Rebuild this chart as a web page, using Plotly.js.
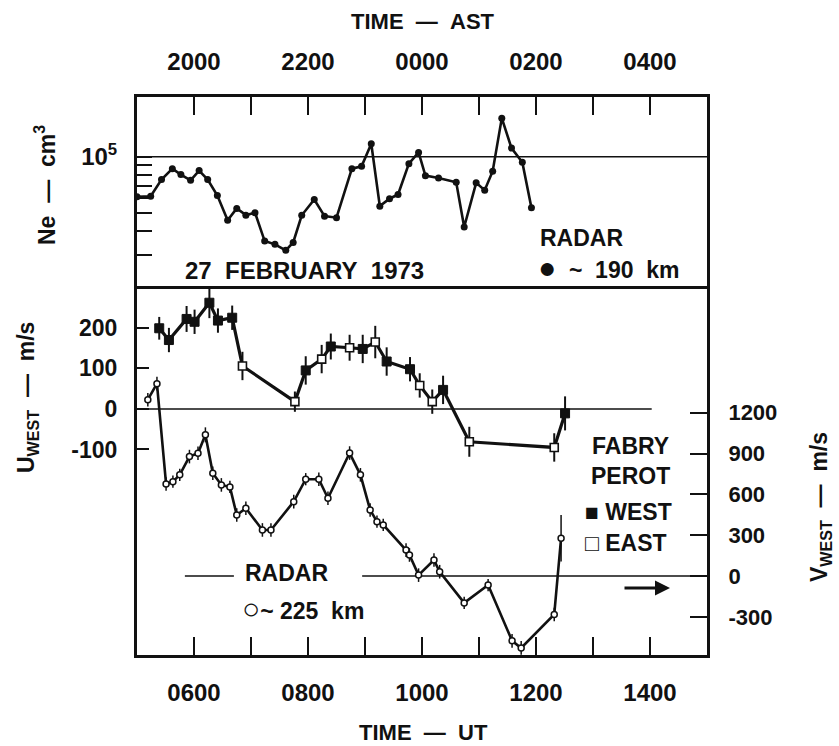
<!DOCTYPE html>
<html><head><meta charset="utf-8">
<script src="https://cdn.plot.ly/plotly-3.0.1.min.js"></script>
<style>html,body{margin:0;padding:0;background:#fff}#chart{width:839px;height:746px}</style>
</head><body><div id="chart"></div>
<script>
// ---- Data ----
// Top panel: radar electron density, ~190 km
const neTime  = [5.0, 5.24, 5.43, 5.62, 5.77, 5.94, 6.09, 6.24, 6.41, 6.59, 6.75, 6.91, 7.07, 7.24, 7.42, 7.61, 7.74, 7.89, 8.11, 8.29, 8.50, 8.77, 8.94, 9.11, 9.26, 9.43, 9.58, 9.77, 9.94, 10.06, 10.29, 10.60, 10.74, 10.95, 11.10, 11.24, 11.40, 11.57, 11.76, 11.92];
const neValue = [61000, 61500, 75500, 86300, 80200, 74800, 84300, 75500, 62000, 45700, 52900, 48700, 50200, 35400, 34000, 31600, 34800, 48600, 59000, 48100, 47200, 86300, 88800, 117300, 54400, 59600, 62800, 91800, 105400, 79200, 77000, 73000, 42100, 72500, 66200, 83600, 160700, 111200, 93300, 53300];

// Bottom panel: Fabry-Perot zonal wind U_WEST (left axis)
const fpTime = [5.39, 5.56, 5.87, 6.01, 6.27, 6.42, 6.67, 6.85, 7.77, 7.96, 8.24, 8.40, 8.73, 8.96, 9.18, 9.38, 9.79, 9.96, 10.18, 10.37, 10.83, 12.32, 12.51];
const fpU    = [199, 170, 222, 215, 262, 218, 225, 106, 18, 95, 123, 154, 151, 148, 165, 117, 98, 58, 18, 47, -81, -95, -11];
const fpErr  = [28, 30, 32, 30, 38, 30, 30, 35, 25, 35, 35, 32, 32, 35, 40, 35, 30, 30, 30, 35, 37, 35, 42];
const fpDir  = ['W','W','W','W','W','W','W','E','E','W','E','W','E','W','E','W','W','E','E','W','E','E','W'];

// Bottom panel: radar V_WEST, ~225 km (right axis)
const radarTime = [5.19, 5.35, 5.51, 5.63, 5.75, 5.92, 6.07, 6.20, 6.33, 6.48, 6.63, 6.75, 6.91, 7.20, 7.35, 7.75, 7.96, 8.19, 8.35, 8.73, 8.92, 9.09, 9.21, 9.32, 9.72, 9.78, 9.94, 10.21, 10.31, 10.74, 11.16, 11.58, 11.74, 12.32, 12.44];
const radarV    = [1296, 1414, 677, 694, 744, 878, 903, 1038, 756, 670, 655, 449, 498, 339, 339, 547, 712, 712, 572, 904, 744, 486, 400, 376, 191, 155, 7, 118, 32, -197, -66, -476, -528, -282, 278];
const radarErr  = [50, 50, 50, 45, 45, 50, 50, 55, 50, 50, 45, 50, 50, 50, 50, 50, 45, 50, 50, 50, 50, 50, 45, 45, 50, 50, 50, 50, 50, 45, 45, 50, 50, 50, 170];

// Axis ticks
const utTicks   = [5, 6, 7, 8, 9, 10, 11, 12, 13, 14, 15];
const utLabels  = ['', '0600', '', '0800', '', '1000', '', '1200', '', '1400', ''];
const astLabels = ['', '2000', '', '2200', '', '0000', '', '0200', '', '0400', ''];
const neTicks   = [30000, 40000, 50000, 60000, 70000, 80000, 90000, 100000];
const neLabels  = ['', '', '', '', '', '', '', '10<sup>5</sup>'];
const uTicks    = [200, 100, 0, -100];
const uLabels   = ['200', '100', '0', '-100'];
const vTicks    = [1200, 900, 600, 300, 0, -300];
const vLabels   = ['1200', '900', '600', '300', '0', '-300'];

// ---- Build ----
const FONT = 'Liberation Sans, Arial, sans-serif';
const BLK = '#111';
const pick = (arr, d) => arr.filter((_, i) => fpDir[i] === d);

const traces = [
  // reference lines
  {x: [5, 15], y: [100000, 100000], xaxis: 'x2', yaxis: 'y2', mode: 'lines', line: {color: BLK, width: 1.6}, hoverinfo: 'skip', showlegend: false},
  {x: [5, 14.03], y: [0, 0], xaxis: 'x', yaxis: 'y', mode: 'lines', line: {color: BLK, width: 1.6}, hoverinfo: 'skip', showlegend: false},
  {x: [5.84, 6.7, null, 8.95, 15], y: [0, 0, null, 0, 0], xaxis: 'x', yaxis: 'y3', mode: 'lines', line: {color: BLK, width: 1.6}, hoverinfo: 'skip', showlegend: false, connectgaps: false},
  // Ne
  {x: neTime, y: neValue, xaxis: 'x2', yaxis: 'y2', mode: 'lines+markers', line: {color: BLK, width: 2.6}, marker: {color: BLK, size: 7}, showlegend: false},
  // Radar V
  {x: radarTime, y: radarV, xaxis: 'x', yaxis: 'y3', mode: 'lines', line: {color: BLK, width: 2.6}, showlegend: false},
  {x: radarTime, y: radarV, xaxis: 'x', yaxis: 'y3', mode: 'markers',
   error_y: {type: 'data', array: radarErr, visible: true, color: BLK, thickness: 1.5, width: 0},
   marker: {symbol: 'circle', size: 6, color: '#fff', line: {color: BLK, width: 1.5}}, showlegend: false},
  // Fabry-Perot U
  {x: fpTime, y: fpU, xaxis: 'x', yaxis: 'y', mode: 'lines', line: {color: BLK, width: 3.2}, showlegend: false},
  {x: pick(fpTime, 'W'), y: pick(fpU, 'W'), xaxis: 'x', yaxis: 'y', mode: 'markers',
   error_y: {type: 'data', array: pick(fpErr, 'W'), visible: true, color: BLK, thickness: 2, width: 0},
   marker: {symbol: 'square', size: 9, color: BLK, line: {color: BLK, width: 1}}, showlegend: false},
  {x: pick(fpTime, 'E'), y: pick(fpU, 'E'), xaxis: 'x', yaxis: 'y', mode: 'markers',
   error_y: {type: 'data', array: pick(fpErr, 'E'), visible: true, color: BLK, thickness: 2, width: 0},
   marker: {symbol: 'square', size: 8, color: '#fff', line: {color: BLK, width: 1.6}}, showlegend: false}
];

const tickFont = (s) => ({family: FONT, size: s, color: BLK, weight: 'bold'});
const axLine = {showline: true, linecolor: BLK, linewidth: 3, showgrid: false, zeroline: false, ticks: 'inside', tickcolor: BLK, tickwidth: 2};

function note(text, px, py, opts) {
  return Object.assign({
    text: text, x: (px - 137) / 570, y: (655 - py) / 558, xref: 'paper', yref: 'paper',
    xanchor: 'center', yanchor: 'middle', showarrow: false,
    font: {family: FONT, size: 23, color: BLK, weight: 'bold'}
  }, opts || {});
}

const layout = {
  width: 839, height: 746,
  margin: {l: 137, r: 132, t: 97, b: 91},
  paper_bgcolor: '#fff', plot_bgcolor: '#fff',
  showlegend: false,
  font: {family: FONT, color: BLK},
  xaxis: Object.assign({}, axLine, {
    domain: [0, 1], range: [5, 15], anchor: 'y', mirror: true,
    tickvals: utTicks, ticktext: utLabels, ticklen: 18, tickfont: tickFont(24), ticklabelstandoff: 14
  }),
  xaxis2: Object.assign({}, axLine, {
    domain: [0, 1], range: [5, 15], anchor: 'y2', side: 'top', mirror: false,
    tickvals: utTicks, ticktext: astLabels, ticklen: 18, tickfont: tickFont(24), ticklabelstandoff: 14
  }),
  yaxis: Object.assign({}, axLine, {
    domain: [0, 0.656], range: [-607, 296], anchor: 'x',
    tickvals: uTicks, ticktext: uLabels, ticklen: 12, tickfont: tickFont(23), ticklabelstandoff: 12
  }),
  yaxis2: Object.assign({}, axLine, {
    domain: [0.656, 1], type: 'log', range: [4.293, 5.319], anchor: 'x2', mirror: true,
    tickvals: neTicks, ticktext: neLabels, ticklen: 15, tickfont: tickFont(24), ticklabelstandoff: 12
  }),
  yaxis3: Object.assign({}, axLine, {
    overlaying: 'y', side: 'right', range: [-580, 2110], anchor: 'x',
    tickvals: vTicks, ticktext: vLabels, ticklen: 17, tickfont: tickFont(22), ticklabelstandoff: 14
  }),
  annotations: [
    note('TIME\u00a0\u00a0—\u00a0\u00a0AST', 423, 22, {font: {family: FONT, size: 22, color: BLK, weight: 'bold'}}),
    note('TIME\u00a0\u00a0—\u00a0\u00a0UT', 423, 732, {font: {family: FONT, size: 22, color: BLK, weight: 'bold'}}),
    note('Ne\u00a0\u00a0—\u00a0\u00a0cm<sup>3</sup>', 45, 185, {textangle: -90}),
    note('U<sub>WEST</sub>\u00a0\u00a0—\u00a0\u00a0m/s', 27, 398, {textangle: -90}),
    note('V<sub>WEST</sub>\u00a0\u00a0—\u00a0\u00a0m/s', 821, 507, {textangle: -90}),
    note('27\u00a0\u00a0FEBRUARY\u00a0\u00a01973', 304, 270, {font: {family: FONT, size: 24, color: BLK, weight: 'bold'}}),
    note('RADAR', 538, 238, {xanchor: 'left'}),
    note('<span style="font-size:30px">●</span>\u00a0\u00a0~\u00a0\u00a0190\u00a0\u00a0km', 536, 267, {xanchor: 'left'}),
    note('FABRY<br>PEROT', 630, 461),
    note('■ WEST', 583, 512, {xanchor: 'left'}),
    note('□ EAST', 583, 543, {xanchor: 'left'}),
    note('', 670, 588, {showarrow: true, ax: -47, ay: 0, arrowhead: 2, arrowsize: 1, arrowwidth: 3, arrowcolor: BLK}),
    note('RADAR', 286, 573),
    note('<span style="font-size:30px">○</span>~\u00a0225\u00a0\u00a0km', 240, 608, {xanchor: 'left'})
  ]
};

Plotly.newPlot('chart', traces, layout, {staticPlot: true, displayModeBar: false});
</script></body></html>
